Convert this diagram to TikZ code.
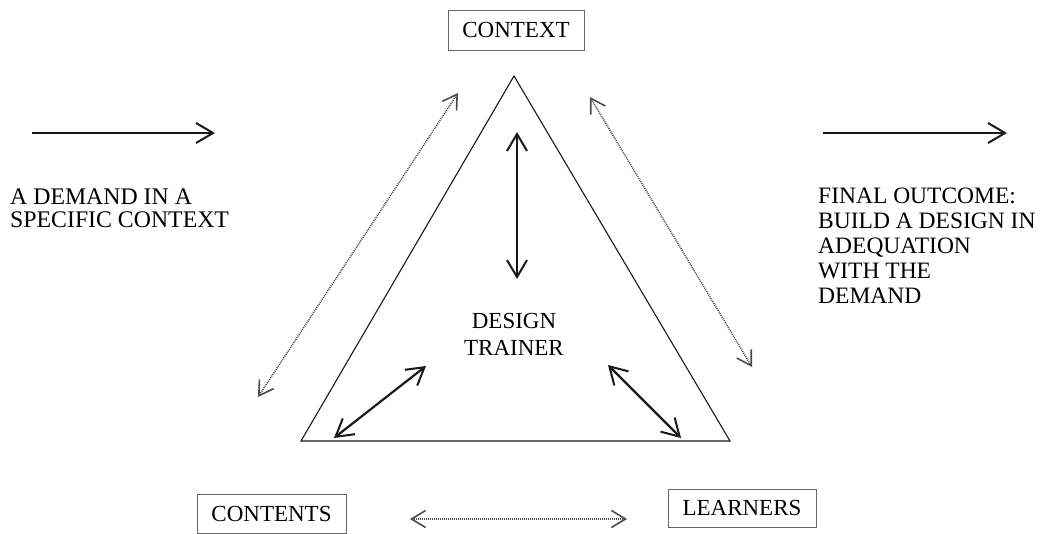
\documentclass[tikz,border=0pt]{standalone}
\usepackage{fontspec}
\setmainfont{Liberation Serif}
\usetikzlibrary{arrows.meta}
\begin{document}
\begin{tikzpicture}[x=1pt,y=-1pt,
  lbl/.style={inner sep=0pt, text=black},
  boxed/.style={draw=black!60, line width=0.9pt, inner sep=0pt, font=\fontsize{23}{23}\selectfont, text=black},
  solidarrow/.style={line width=2.2pt, black!90, {Straight Barb[length=17pt,width=20pt,line width=2pt]}-{Straight Barb[length=17pt,width=20pt,line width=2pt]}},
  onearrow/.style={line width=2.2pt, black!90, -{Straight Barb[length=17pt,width=20pt,line width=2pt]}},
  dotarrow/.style={line width=1.5pt, black!70, dash pattern=on 1pt off 1pt, {Straight Barb[length=14pt,width=17pt,line width=1.6pt]}-{Straight Barb[length=14pt,width=17pt,line width=1.6pt]}},
  tri/.style={line width=1.1pt, black!90}
]
\useasboundingbox (0,0) rectangle (1041,534);

% boxes
\node[boxed, minimum width=136pt, minimum height=40pt] (context) at (516,30) {CONTEXT};
\node[boxed, minimum width=149pt, minimum height=39pt] (contents) at (271.5,513.5) {CONTENTS};
\node[boxed, minimum width=148pt, minimum height=38pt] (learners) at (742,508) {LEARNERS};

% triangle
\coordinate (A) at (514,76);
\coordinate (B) at (301,441);
\coordinate (C) at (730,441);
\draw[tri] (A) -- (B) -- (C) -- cycle;

% texts
\node[lbl, anchor=north west, align=left, font=\fontsize{23.8}{23}\selectfont] (demand) at (10,189) {A DEMAND IN A\\SPECIFIC CONTEXT};
\node[lbl, anchor=north west, align=left, font=\fontsize{23.5}{25}\selectfont] (outcome) at (818,188) {FINAL OUTCOME:\\BUILD A DESIGN IN\\ADEQUATION\\WITH THE\\DEMAND};
\node[lbl, anchor=north, align=center, font=\fontsize{23}{27}\selectfont] (trainer) at (514,313) {DESIGN\\TRAINER};

% top straight arrows
\coordinate (l1) at (32,133);
\coordinate (l2) at (215,133);
\coordinate (r1) at (823,133);
\coordinate (r2) at (1007,133);
\draw[onearrow] (l1) -- (l2);
\draw[onearrow] (r1) -- (r2);

% inner arrows
\coordinate (v1) at (517,132);
\coordinate (v2) at (517,279);
\draw[solidarrow] (v1) -- (v2);
\coordinate (il1) at (334,438);
\coordinate (il2) at (426,366);
\draw[solidarrow] (il1) -- (il2);
\coordinate (ir1) at (608,365);
\coordinate (ir2) at (681,438);
\draw[solidarrow] (ir1) -- (ir2);

% dotted arrows
\coordinate (dl1) at (458,93);
\coordinate (dl2) at (258,397);
\draw[dotarrow] (dl1) -- (dl2);
\coordinate (dr1) at (590,97);
\coordinate (dr2) at (752,367);
\draw[dotarrow] (dr1) -- (dr2);
\coordinate (db1) at (410,519);
\coordinate (db2) at (627,519);
\draw[dotarrow] (db1) -- (db2);
\end{tikzpicture}
\end{document}
